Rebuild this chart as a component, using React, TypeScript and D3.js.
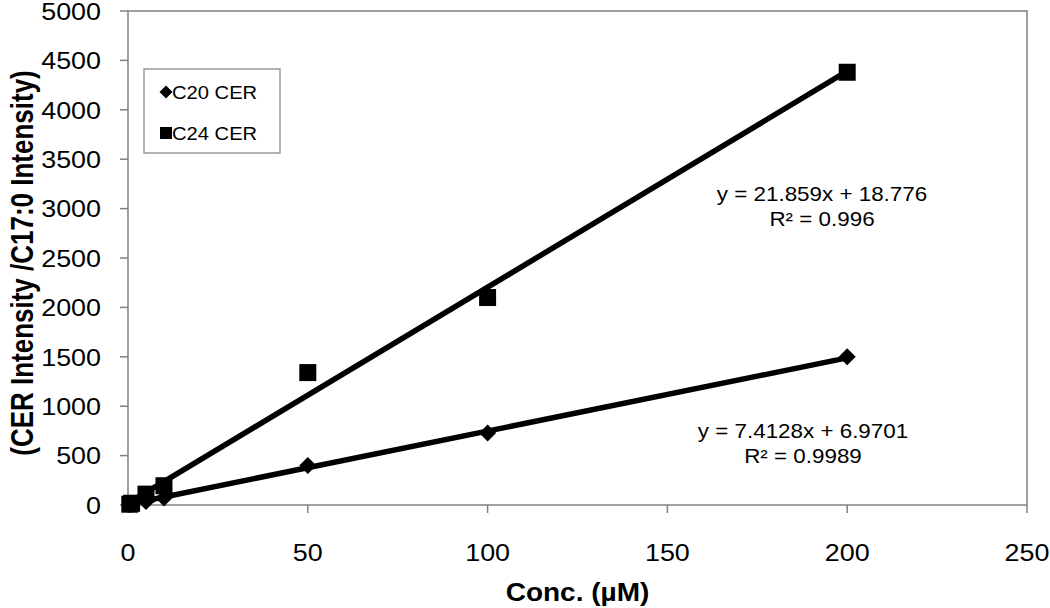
import React from "react";
import * as d3 from "d3";

const concX = [0.5, 1, 5, 10, 50, 100, 200];
const c20Values = [4, 8, 35, 70, 400, 730, 1500];
const c24Values = [8, 18, 110, 195, 1340, 2100, 4380];
const c20Fit = { slope: 7.4128, intercept: 6.9701, r2: "0.9989" };
const c24Fit = { slope: 21.859, intercept: 18.776, r2: "0.996" };
const xTicks = [0, 50, 100, 150, 200, 250];
const yTicks = [0, 500, 1000, 1500, 2000, 2500, 3000, 3500, 4000, 4500, 5000];
const seriesNames = ["C20 CER", "C24 CER"];

const FONT = "'Liberation Sans', Arial, sans-serif";
const SX = 1.12;

function T({ x, y, size, anchor = "middle", bold = false, children, sx = SX }: any) {
  return (
    <text
      transform={`translate(${x},${y}) scale(${sx},1)`}
      fontFamily={FONT}
      fontSize={size}
      fontWeight={bold ? "bold" : "normal"}
      textAnchor={anchor}
      fill="#000"
    >
      {children}
    </text>
  );
}

function diamondPath(cx: number, cy: number, r: number) {
  return `M${cx},${cy - r}L${cx + r},${cy}L${cx},${cy + r}L${cx - r},${cy}Z`;
}

export default function App() {
  const W = 1050, H = 608;
  const x = d3.scaleLinear().domain([0, 250]).range([128, 1027]);
  const y = d3.scaleLinear().domain([0, 5000]).range([505, 11]);
  const axisColor = "#808080";
  const xMin = d3.min(concX)!, xMax = d3.max(concX)!;
  const line = d3.line<number[]>().x((d) => x(d[0])).y((d) => y(d[1]));
  const fitLine = (f: any) =>
    line([[xMin, f.intercept + f.slope * xMin], [xMax, f.intercept + f.slope * xMax]]) as string;

  return (
    <svg width={W} height={H} style={{ position: "absolute", left: 0, top: 0, background: "#fff" }}>
      <rect x={0} y={0} width={W} height={H} fill="#fff" />
      <rect x={x(0)} y={y(5000)} width={x(250) - x(0)} height={y(0) - y(5000)} fill="none" stroke={axisColor} strokeWidth={1.5} />
      {yTicks.map((t) => (
        <g key={"y" + t}>
          <line x1={x(0) - 8} x2={x(0)} y1={y(t)} y2={y(t)} stroke={axisColor} strokeWidth={1.5} />
          <T x={101} y={y(t) + 8.8} size={24} anchor="end">{t}</T>
        </g>
      ))}
      {xTicks.map((t) => (
        <g key={"x" + t}>
          <line x1={x(t)} x2={x(t)} y1={y(0)} y2={y(0) + 8} stroke={axisColor} strokeWidth={1.5} />
          <T x={x(t)} y={561} size={24}>{t}</T>
        </g>
      ))}
      <path d={fitLine(c24Fit)} stroke="#000" strokeWidth={5.5} fill="none" />
      <path d={fitLine(c20Fit)} stroke="#000" strokeWidth={5.5} fill="none" />
      {concX.map((cx, i) => (
        <path key={"d" + i} d={diamondPath(x(cx), y(c20Values[i]), 8.5)} fill="#000" />
      ))}
      {concX.map((cx, i) => (
        <rect key={"s" + i} x={x(cx) - 8.5} y={y(c24Values[i]) - 8.5} width={17} height={17} fill="#000" />
      ))}
      <T x={822} y={201} size={20}>{`y = ${c24Fit.slope}x + ${c24Fit.intercept}`}</T>
      <T x={822} y={226} size={20}>{`R² = ${c24Fit.r2}`}</T>
      <T x={803} y={438} size={20}>{`y = ${c20Fit.slope}x + ${c20Fit.intercept}`}</T>
      <T x={803} y={463} size={20}>{`R² = ${c20Fit.r2}`}</T>
      <rect x={144} y={69} width={136} height={84} fill="#fff" stroke={axisColor} strokeWidth={1.2} />
      <path d={diamondPath(166, 92, 6.5)} fill="#000" />
      <T x={172} y={98.5} size={18} anchor="start">{seriesNames[0]}</T>
      <rect x={160} y={127} width={12} height={12} fill="#000" />
      <T x={172} y={139.5} size={18} anchor="start">{seriesNames[1]}</T>
      <T x={x(125)} y={601} size={25} bold>Conc. (µM)</T>
      <text
        transform={`translate(33,263) scale(1.2,1) rotate(-90)`}
        fontFamily={FONT}
        fontSize={26}
        fontWeight="bold"
        textAnchor="middle"
        fill="#000"
      >
        (CER Intensity /C17:0 Intensity)
      </text>
    </svg>
  );
}
